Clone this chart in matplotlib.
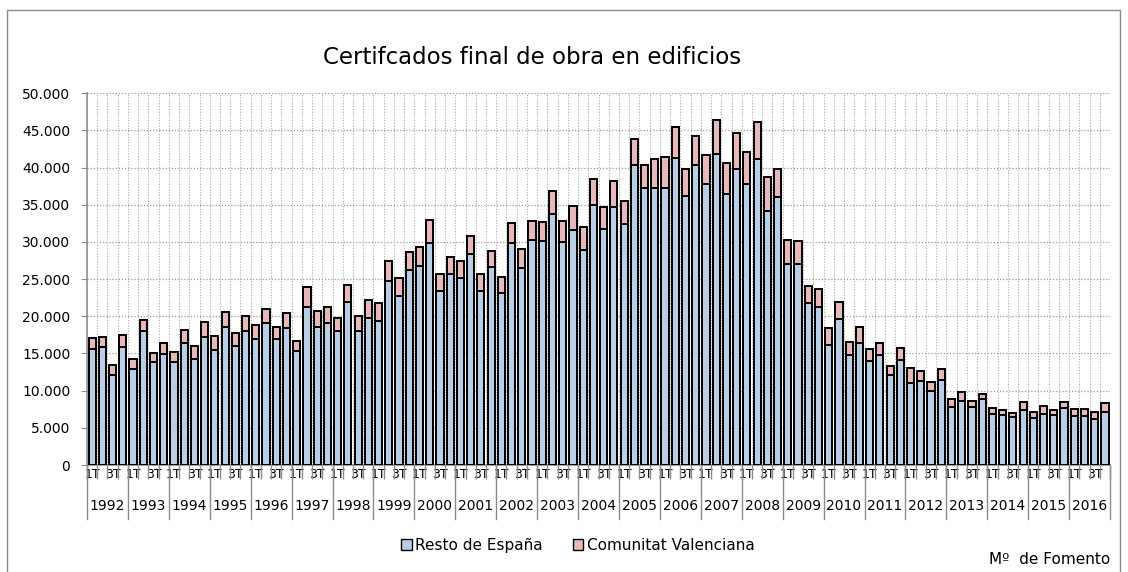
import numpy as np
import matplotlib.pyplot as plt
from matplotlib.patches import Rectangle, Patch
import matplotlib.transforms as mtransforms

years = list(range(1992, 2017))
quarter_labels = ['1T', '', '3T', '']

# Resto de España (parte inferior) por trimestre
resto = [15600, 15830, 12140, 15920, 12860, 18080, 13890, 14930,
         13800, 16460, 14300, 17270, 15470, 18530, 16050, 18080,
         16950, 19060, 16950, 18440, 15290, 21310, 18620, 19150,
         17990, 21940, 17990, 19780, 19420, 24690, 22750, 26170,
         26750, 29860, 23470, 25630, 25130, 28330, 23340, 26620,
         23110, 29860, 26480, 30220, 30130, 33810, 30040, 31650,
         28870, 34980, 31740, 34710, 32370, 40290, 37320, 37320,
         37280, 41280, 36200, 40290, 37770, 41820, 36510, 39840,
         37860, 41190, 34170, 36060, 27070, 27070, 21850, 21300,
         16180, 19600, 14840, 16460, 13940, 14750, 12140, 14120,
         11020, 11330, 9980, 11470, 7870, 8590, 7870, 8860,
         6830, 6740, 6430, 7460, 6380, 6920, 6740, 7640,
         6650, 6650, 6250, 7190]

# Comunitat Valenciana (parte superior)
valencia = [1490, 1440, 1350, 1620, 1350, 1430, 1130, 1530,
            1400, 1710, 1700, 1930, 1890, 2110, 1650, 1920,
            1840, 1980, 1670, 2020, 1440, 2610, 2060, 2070,
            1790, 2250, 2110, 2480, 2390, 2690, 2430, 2520,
            2570, 3100, 2250, 2340, 2300, 2470, 2380, 2160,
            2160, 2690, 2610, 2560, 2560, 3060, 2780, 3150,
            3140, 3420, 2970, 3460, 3150, 3590, 3060, 3870,
            4180, 4220, 3590, 3950, 3960, 4540, 4050, 4850,
            4230, 4940, 4590, 3780, 3150, 3100, 2200, 2350,
            2200, 2300, 1710, 2160, 1710, 1660, 1170, 1570,
            1980, 1350, 1170, 1480, 990, 1170, 760, 760,
            810, 720, 580, 990, 720, 990, 720, 900,
            900, 950, 850, 1170]

azul = '#b9cde5'
rosa = '#e6b9b8'
gris = '#8c8c8c'

fig = plt.figure(figsize=(11.28, 5.72), dpi=100)
ax = fig.add_axes([0.0771, 0.187, 0.907, 0.650])

x = np.arange(len(resto))
ax.bar(x, resto, width=0.7, color=azul, edgecolor='black', linewidth=1.4, zorder=3)
ax.bar(x, valencia, bottom=resto, width=0.7, color=rosa, edgecolor='black',
       linewidth=1.4, zorder=3)

ax.set_xlim(-0.5, len(resto) - 0.5)
ax.set_ylim(0, 50000)
yt = np.arange(0, 50001, 5000)
ax.set_yticks(yt)
ax.set_yticklabels([f'{v:,}'.replace(',', '.') for v in yt], fontsize=10)

# rejilla punteada
for v in yt[1:]:
    ax.axhline(v, color='#999999', lw=0.9, ls=(0, (1, 1.5)), zorder=1)
for b in np.arange(0.5, len(resto) - 0.5, 1):
    ax.axvline(b, color='#aaaaaa', lw=0.8, ls=(0, (1, 1.5)), zorder=1)

for s in ['top', 'right']:
    ax.spines[s].set_visible(False)
ax.spines['left'].set_color(gris)
ax.spines['bottom'].set_color(gris)
ax.spines['left'].set_linewidth(1.2)
ax.spines['bottom'].set_linewidth(1.2)
ax.tick_params(axis='y', length=4, color=gris, pad=8)

# etiquetas de trimestre
ax.set_xticks(x)
ax.set_xticklabels(quarter_labels * len(years), fontsize=9)
ax.tick_params(axis='x', which='major', length=0, pad=2)
ax.set_xticks(np.arange(-0.5, len(resto), 1), minor=True)
ax.tick_params(axis='x', which='minor', length=10, color=gris, width=1)

# años y separadores
trans = mtransforms.blended_transform_factory(ax.transData, ax.transAxes)
for k, yr in enumerate(years):
    ax.text(4 * k + 1.5, -0.11, str(yr), transform=trans, ha='center',
            va='center', fontsize=10)
for k in range(len(years) + 1):
    ax.plot([4 * k - 0.5, 4 * k - 0.5], [0, -0.145], transform=trans,
            color=gris, lw=1, clip_on=False)

fig.text(0.472, 0.90, 'Certifcados final de obra en edificios', ha='center',
         va='center', fontsize=16.5)

handles = [Patch(facecolor=azul, edgecolor='black', label='Resto de España'),
           Patch(facecolor=rosa, edgecolor='black', label='Comunitat Valenciana')]
fig.legend(handles=handles, loc='center', bbox_to_anchor=(0.512, 0.047), ncol=2,
           frameon=False, fontsize=11, handlelength=0.7, handleheight=0.7,
           handletextpad=0.2, columnspacing=2.0)

fig.text(0.984, 0.021, 'Mº  de Fomento', ha='right', va='center', fontsize=11)

fig.patches.append(Rectangle((7 / 1128, -0.05), (1120 - 7) / 1128, 1.05 - 10 / 572,
                             transform=fig.transFigure, fill=False,
                             edgecolor=gris, lw=1))

fig.savefig('out.png', dpi=100)
